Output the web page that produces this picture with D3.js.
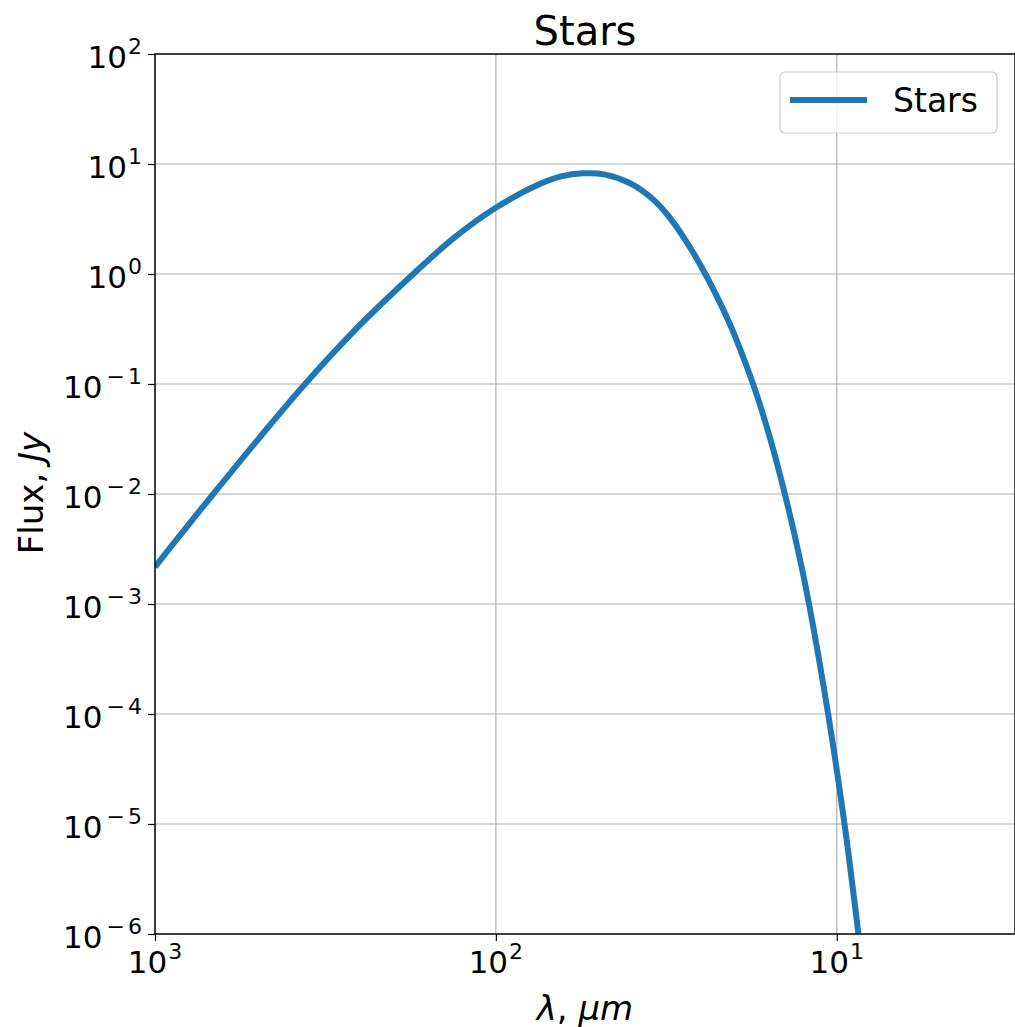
<!DOCTYPE html>
<html>
<head>
<meta charset="utf-8">
<script src="https://cdn.jsdelivr.net/npm/d3@7"></script>
<style>
body { margin: 0; background: #fff; }
svg text { font-family: "DejaVu Sans", sans-serif; fill: #000; }
.grid line { stroke: #b0b0b0; stroke-width: 1.2; }
</style>
</head>
<body>
<script>
// curve: wavelength in micron, flux in Jy
var wavelength = [1000, 822, 674.5, 495, 362.9, 252, 174.7, 132.7, 100.6, 74.7, 64.4, 55.4, 47.8,
                  40.4, 35.3, 31.5, 27.5, 24.3, 20.7, 17.6, 15.7, 14.2, 13.0, 12.06, 10.6, 9.49, 8.64]
var flux = [2.17e-3, 4.68e-3, 1.0e-2, 3.22e-2, 0.1, 0.337, 1.0, 2.13, 3.96, 6.54, 7.73, 8.23, 8.01,
            6.68, 5.04, 3.51, 1.93, 1.0, 0.364, 0.1, 3.24e-2, 1e-2, 3.1e-3, 1e-3, 1e-4, 1e-5, 1e-6]

var xMajor = [1000, 100, 10]
var xExp = ["3", "2", "1"]
var yMajor = [100, 10, 1, 0.1, 0.01, 1e-3, 1e-4, 1e-5, 1e-6]
var yExp = ["2", "1", "0", "-1", "-2", "-3", "-4", "-5", "-6"]

var seriesName = "Stars"
var titleText = "Stars"

var W = 1015, H = 1027
var plot = {"left": 155, "right": 1015, "top": 54, "bottom": 934}

var svg = d3.select("body").append("svg")
  .attr("width", W)
  .attr("height", H)

var x = d3.scaleLog().domain([1000, 3]).range([plot.left, plot.right])
var y = d3.scaleLog().domain([1e-6, 100]).range([plot.bottom, plot.top])

// minor tick values for each decade
function minors(lo, hi) {
  var out = []
  for (var e = lo; e < hi; e++) {
    for (var k = 2; k <= 9; k++) out.push(k * Math.pow(10, e))
  }
  return out
}
var xMinor = minors(0, 3).filter(function(v) { return v >= 3 && v <= 1000 })
var yMinor = minors(-6, 2)

// grid
var grid = svg.append("g").attr("class", "grid")
grid.selectAll(".gx").data(xMajor).enter().append("line")
  .attr("x1", function(d) { return x(d) }).attr("x2", function(d) { return x(d) })
  .attr("y1", plot.top).attr("y2", plot.bottom)
grid.selectAll(".gy").data(yMajor).enter().append("line")
  .attr("y1", function(d) { return y(d) }).attr("y2", function(d) { return y(d) })
  .attr("x1", plot.left).attr("x2", plot.right)

// the curve
svg.append("clipPath").attr("id", "clip")
  .append("rect")
  .attr("x", plot.left).attr("y", plot.top)
  .attr("width", plot.right - plot.left).attr("height", plot.bottom - plot.top)

var pts = wavelength.map(function(w, i) { return {"w": w, "f": flux[i]} })
var line = d3.line()
  .x(function(d) { return x(d.w) })
  .y(function(d) { return y(d.f) })
  .curve(d3.curveCatmullRom.alpha(0.5))

svg.append("path")
  .datum(pts)
  .attr("clip-path", "url(#clip)")
  .attr("d", line)
  .attr("fill", "none")
  .attr("stroke", "#1f77b4")
  .attr("stroke-width", 6)

// axes
var xAxis = d3.axisBottom(x).tickValues(xMajor).tickFormat("").tickSize(7).tickSizeOuter(0)
var xAxisMinor = d3.axisBottom(x).tickValues(xMinor).tickFormat("").tickSize(4).tickSizeOuter(0)
var yAxis = d3.axisLeft(y).tickValues(yMajor).tickFormat("").tickSize(7).tickSizeOuter(0)
var yAxisMinor = d3.axisLeft(y).tickValues(yMinor).tickFormat("").tickSize(4).tickSizeOuter(0)

var gx = svg.append("g").attr("transform", "translate(0," + plot.bottom + ")")
gx.call(xAxisMinor)
gx.call(xAxis)
var gy = svg.append("g").attr("transform", "translate(" + plot.left + ",0)")
gy.call(yAxisMinor)
gy.call(yAxis)

svg.selectAll(".domain").remove()
svg.selectAll(".tick line").attr("stroke", "#000").attr("stroke-width", 1.2)

// spines
svg.append("rect")
  .attr("x", plot.left).attr("y", plot.top)
  .attr("width", plot.right - plot.left).attr("height", plot.bottom - plot.top)
  .attr("fill", "none")
  .attr("stroke", "#000")
  .attr("stroke-width", 1.4)

// power-of-ten labels, mathtext style (spaced minus sign)
function powLabel(g, exp) {
  g.append("tspan").attr("font-size", 31).text("10")
  if (exp.charAt(0) == "-") {
    g.append("tspan").attr("font-size", 22).attr("dx", 4).attr("dy", -14).text("\u2212")
    g.append("tspan").attr("font-size", 22).attr("dx", 3).text(exp.slice(1))
  } else {
    g.append("tspan").attr("font-size", 22).attr("dx", 1).attr("dy", -14).text(exp)
  }
}

xMajor.forEach(function(v, i) {
  var t = svg.append("text")
    .attr("x", x(v))
    .attr("y", 973)
    .attr("text-anchor", "middle")
  powLabel(t, xExp[i])
})

yMajor.forEach(function(v, i) {
  var t = svg.append("text")
    .attr("x", 142)
    .attr("y", y(v) + 14)
    .attr("text-anchor", "end")
  powLabel(t, yExp[i])
})

// title and axis labels
svg.append("text")
  .attr("x", (plot.left + plot.right) / 2)
  .attr("y", 45)
  .attr("text-anchor", "middle")
  .attr("font-size", 40)
  .text(titleText)

var xl = svg.append("text")
  .attr("x", (plot.left + plot.right) / 2)
  .attr("y", 1020)
  .attr("text-anchor", "middle")
  .attr("font-size", 34)
xl.append("tspan").attr("font-style", "italic").text("\u03bb")
xl.append("tspan").text(", ")
xl.append("tspan").attr("font-style", "italic").text("\u03bcm")

var yl = svg.append("text")
  .attr("transform", "translate(43," + 493 + ") rotate(-90)")
  .attr("text-anchor", "middle")
  .attr("font-size", 34)
yl.append("tspan").text("Flux, ")
yl.append("tspan").attr("font-style", "italic").text("Jy")

// legend
var lg = svg.append("g").attr("transform", "translate(780,72)")
lg.append("rect")
  .attr("width", 217).attr("height", 61)
  .attr("rx", 5).attr("ry", 5)
  .attr("fill", "#fff").attr("fill-opacity", 0.8)
  .attr("stroke", "#cccccc").attr("stroke-width", 1.2)
lg.append("line")
  .attr("x1", 10).attr("x2", 87)
  .attr("y1", 28).attr("y2", 28)
  .attr("stroke", "#1f77b4").attr("stroke-width", 6)
lg.append("text")
  .attr("x", 113).attr("y", 40)
  .attr("font-size", 33)
  .text(seriesName)
</script>
</body>
</html>
